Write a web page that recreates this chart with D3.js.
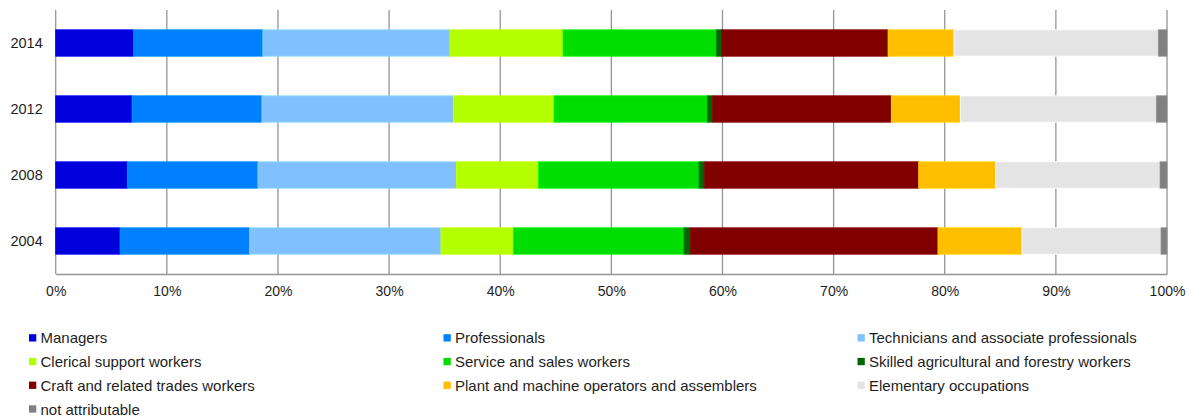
<!DOCTYPE html>
<html>
<head>
<meta charset="utf-8">
<script src="https://cdn.jsdelivr.net/npm/d3@7"></script>
<style>
  html, body { margin: 0; padding: 0; background: #fff; }
  svg { display: block; font-family: "Liberation Sans", Arial, Helvetica, sans-serif; }
</style>
</head>
<body>
<svg id="chart" width="1193" height="417"></svg>
<script>
// Employment by occupation group, share of total (%)
const years = ["2014", "2012", "2008", "2004"];

const groups = [
  "Managers",
  "Professionals",
  "Technicians and associate professionals",
  "Clerical support workers",
  "Service and sales workers",
  "Skilled agricultural and forestry workers",
  "Craft and related trades workers",
  "Plant and machine operators and assemblers",
  "Elementary occupations",
  "not attributable"
];

const groupColors = [
  "#0000dd", "#0080ff", "#80c0ff", "#b3ff00", "#00dd00",
  "#006600", "#800000", "#ffbf00", "#e4e4e4", "#808080"
];

// shares per year, in the order of `groups`
const share2014 = [7.0, 11.65, 16.83, 10.17, 13.8, 0.45, 15.0, 5.93, 18.39, 0.78];
const share2012 = [6.87, 11.69, 17.22, 9.06, 13.8, 0.48, 16.07, 6.21, 17.64, 0.96];
const share2008 = [6.44, 11.76, 17.87, 7.39, 14.43, 0.51, 19.26, 6.92, 14.79, 0.63];
const share2004 = [5.79, 11.67, 17.21, 6.51, 15.36, 0.56, 22.29, 7.56, 12.51, 0.54];

const xTicks = [0, 10, 20, 30, 40, 50, 60, 70, 80, 90, 100];

// table for the stack layout
const sharesByYear = { "2014": share2014, "2012": share2012, "2008": share2008, "2004": share2004 };
const rows = years.map(yr => {
  const r = { year: yr };
  groups.forEach((g, i) => { r[g] = sharesByYear[yr][i]; });
  return r;
});

const svg = d3.select("#chart");
const plotLeft = 55.7, plotRight = 1167, plotTop = 10, plotBottom = 274;

const x = d3.scaleLinear().domain([0, 100]).range([plotLeft, plotRight]);
const y = d3.scaleBand().domain(years).range([plotTop, plotBottom]).paddingInner(0.6).paddingOuter(0.3);
const color = d3.scaleOrdinal().domain(groups).range(groupColors);

// vertical gridlines
svg.append("g")
  .selectAll("line")
  .data(xTicks)
  .join("line")
  .attr("x1", d => x(d)).attr("x2", d => x(d))
  .attr("y1", plotTop).attr("y2", plotBottom)
  .attr("stroke", "#959595")
  .attr("stroke-width", 1.3);

// stacked bars
const stack = d3.stack().keys(groups);
const series = stack(rows);

svg.append("g")
  .selectAll("g")
  .data(series)
  .join("g")
  .attr("fill", d => color(d.key))
  .attr("stroke", d => d3.color(color(d.key)).brighter(0.35))
  .attr("stroke-width", 0.8)
  .selectAll("rect")
  .data(d => d)
  .join("rect")
  .attr("x", d => x(d[0]))
  .attr("y", d => y(d.data.year))
  .attr("width", d => x(d[1]) - x(d[0]))
  .attr("height", y.bandwidth());

// x axis
const xAxis = svg.append("g")
  .attr("transform", `translate(0,${plotBottom})`)
  .call(d3.axisBottom(x).tickValues(xTicks).tickFormat(d => d + "%").tickSize(0).tickPadding(12));
xAxis.select(".domain").attr("stroke", "#959595").attr("stroke-width", 1.3);
xAxis.selectAll("text")
  .attr("font-size", 14)
  .attr("fill", "#1e1e1e")
  .attr("font-family", "Liberation Sans, Arial, sans-serif");

// y axis
const yAxis = svg.append("g")
  .attr("transform", `translate(${plotLeft},0)`)
  .call(d3.axisLeft(y).tickSize(0).tickPadding(13));
yAxis.select(".domain").remove();
yAxis.selectAll("text")
  .attr("font-size", 14.5)
  .attr("fill", "#1e1e1e")
  .attr("font-family", "Liberation Sans, Arial, sans-serif");

// legend: three columns
const colX = [29, 443.5, 857.5];
const rowY = [338, 361.7, 385.4, 409.1];
const legend = svg.append("g")
  .selectAll("g")
  .data(groups)
  .join("g")
  .attr("transform", (d, i) => `translate(${colX[i % 3]},${rowY[Math.floor(i / 3)]})`);

legend.append("rect")
  .attr("x", 0).attr("y", -3.8)
  .attr("width", 7.3).attr("height", 7.3)
  .attr("fill", d => color(d));

legend.append("text")
  .attr("x", 11.5)
  .attr("y", 0)
  .attr("dy", "0.36em")
  .attr("font-size", 15)
  .attr("fill", "#1e1e1e")
  .text(d => d);
</script>
</body>
</html>
